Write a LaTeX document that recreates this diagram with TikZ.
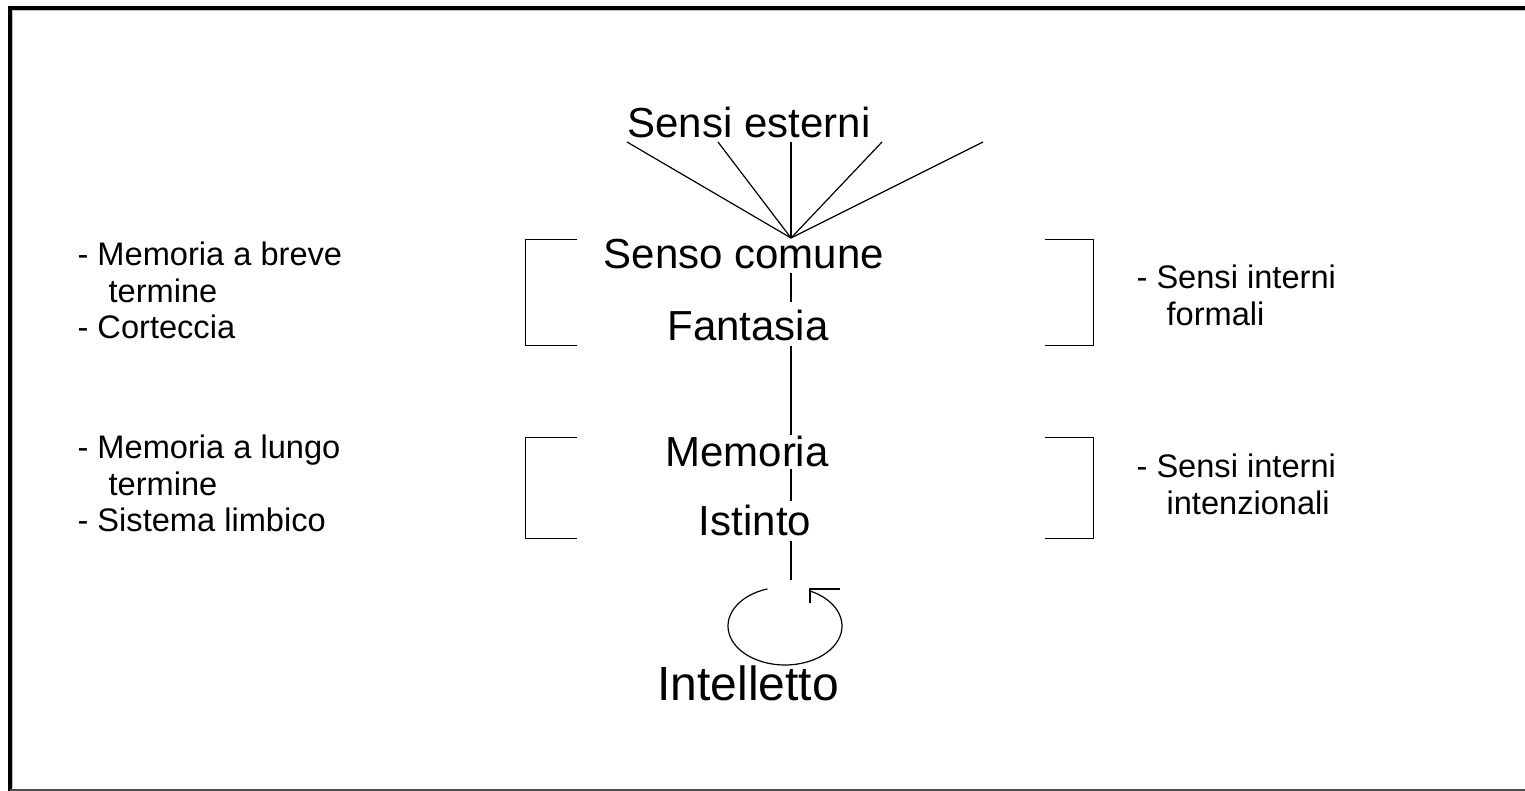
\documentclass[tikz,border=0pt]{standalone}
\usepackage{fontspec}
\setmainfont{Liberation Sans}
\tikzset{
  lbl/.style={inner sep=0pt, anchor=base, font=\fontsize{21}{25}\selectfont},
  note/.style={inner sep=0pt, anchor=north west, align=left, font=\fontsize{16.3}{18.4}\selectfont},
  brk/.style={line width=0.5pt},
}

\begin{document}
\begin{tikzpicture}[x=0.5pt,y=0.5pt,line width=0.6pt]
\useasboundingbox (0,0) rectangle (1525,-791);
% frame
\draw[line width=2pt] (10,-791) -- (10,-8) -- (1525,-8);
\draw[gray!50, line width=0.5pt] (12.5,-788) -- (12.5,-10.5) -- (1525,-10.5);
\draw[gray!60!black, line width=1pt] (10,-789.5) -- (1525,-789.5);

% main column
\node[lbl] (ext) at (749,-138) {Sensi esterni};
\node[lbl] (sc) at (744,-269) {Senso comune};
\node[lbl] (fan) at (748,-340) {Fantasia};
\node[lbl] (mem) at (747,-466) {Memoria};
\node[lbl] (ist) at (755,-535) {Istinto};
\node[lbl, font=\fontsize{24}{28}\selectfont] (int) at (748,-700) {Intelletto};

% external senses into the common sense
\coordinate (hub) at (791,-238);
\foreach \x [count=\i] in {627,718,791,882,983}
  \coordinate (e\i) at (\x,-142);
\foreach \i in {1,...,5}
  \draw (e\i) -- (hub);

% vertical chain
\coordinate (tail) at (791,-580);
\draw[shorten <=1.5pt, shorten >=3.5pt] (sc.south -| hub) -- (fan.north -| hub);
\draw[shorten <=2.5pt] (fan.south -| hub) -- (mem.north -| hub);
\draw[shorten <=1pt, shorten >=1.5pt] (mem.south -| hub) -- (ist.north -| hub);
\draw[shorten <=2.5pt] (ist.south -| hub) -- (tail);

% loop round the intellect
\coordinate (loopc) at (785,-626);
\coordinate (tip) at (810,-589);
\draw ([shift={(108:28.5pt and 19.5pt)}]loopc) arc[start angle=108, end angle=424, x radius=28.5pt, y radius=19.5pt];
\draw ([xshift=15pt]tip) -- (tip) -- ([yshift=-7pt]tip);

% brackets
\foreach \t/\b in {240/345, 437/538} {
  \draw[brk] (577,-\t) -- (525,-\t) -- (525,-\b) -- (577,-\b);
  \draw[brk] (1045,-\t) -- (1093,-\t) -- (1093,-\b) -- (1045,-\b);
}

% side notes
\node[note] (ltop) at (77,-241) {- Memoria a breve\\\hspace*{15.5pt}termine\\- Corteccia};
\node[note] (lbot) at (77,-434) {- Memoria a lungo\\\hspace*{15.5pt}termine\\- Sistema limbico};
\node[note] (rtop) at (1136,-264.5) {- Sensi interni\\\hspace*{15pt}formali};
\node[note] (rbot) at (1136,-453.5) {- Sensi interni\\\hspace*{15pt}intenzionali};
\end{tikzpicture}
\end{document}
